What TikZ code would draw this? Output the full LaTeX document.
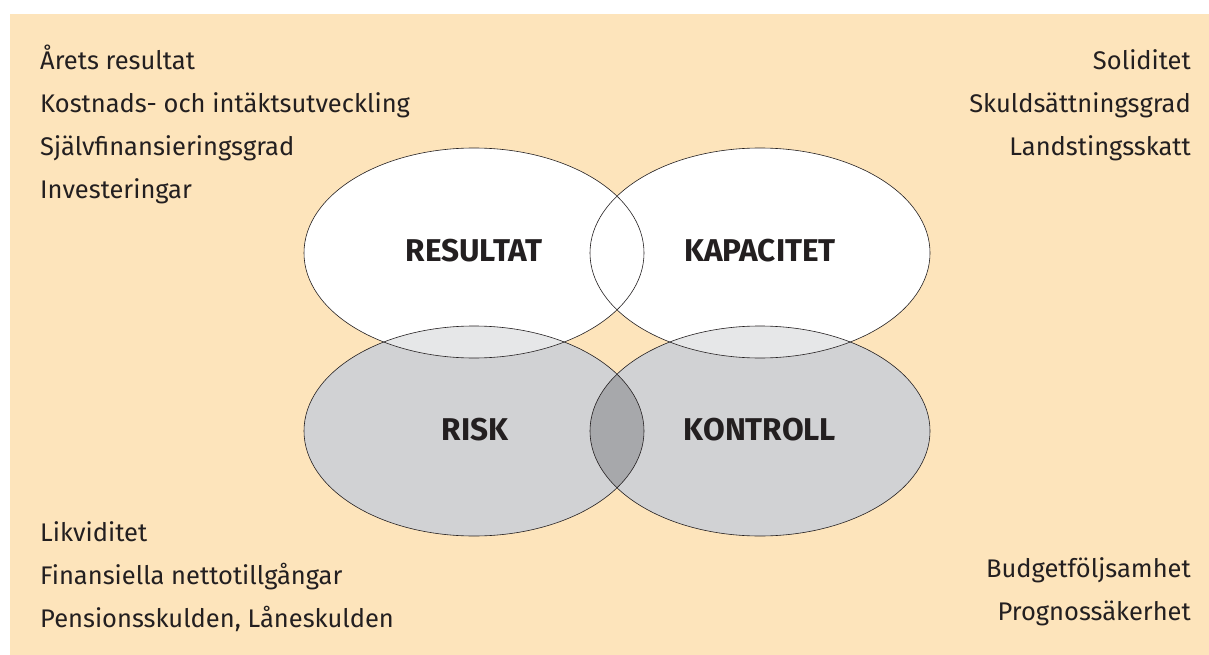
\documentclass[tikz,border=0pt]{standalone}
\usepackage{fontspec}
\setmainfont{Fira Sans}
\definecolor{peach}{HTML}{FDE4BB}
\definecolor{lowfill}{HTML}{D1D2D4}
\definecolor{paleoverlap}{HTML}{E6E7E8}
\definecolor{darkoverlap}{HTML}{A7A8AB}
\definecolor{ink}{HTML}{231F20}
\begin{document}
\begin{tikzpicture}[x=1pt,y=-1pt,
  item/.style={font=\fontsize{25.5}{30}\selectfont, text=ink, inner sep=0pt},
  area/.style={font=\bfseries\fontsize{31.5}{36}\selectfont, text=ink, inner sep=0pt},
  rim/.style={draw=ink, line width=0.6pt},
  oval/.style={x radius=170pt, y radius=105pt}]
\useasboundingbox (0,0) rectangle (1209,655);
\fill[white] (0,0) rectangle (1209,655);
\fill[peach] (10,14) rectangle (1209,655);

% centres of the four ovals
\coordinate (cRes) at (474,253);
\coordinate (cKap) at (760,253);
\coordinate (cRisk) at (474,431);
\coordinate (cKon) at (760,431);

% base fills
\fill[lowfill] (cRisk) ellipse [oval];
\fill[lowfill] (cKon) ellipse [oval];
\fill[white] (cRes) ellipse [oval];
\fill[white] (cKap) ellipse [oval];

% overlaps between upper and lower ovals
\begin{scope}
  \clip (cRes) ellipse [oval];
  \fill[paleoverlap] (cRisk) ellipse [oval];
\end{scope}
\begin{scope}
  \clip (cKap) ellipse [oval];
  \fill[paleoverlap] (cKon) ellipse [oval];
\end{scope}
% overlap of the two lower ovals
\begin{scope}
  \clip (cRisk) ellipse [oval];
  \fill[darkoverlap] (cKon) ellipse [oval];
\end{scope}

% outlines
\draw[rim] (cRes) ellipse [oval];
\draw[rim] (cKap) ellipse [oval];
\draw[rim] (cRisk) ellipse [oval];
\draw[rim] (cKon) ellipse [oval];

% oval titles
\node[area] (resultat) at (474,251) {RESULTAT};
\node[area] (kapacitet) at (760,251) {KAPACITET};
\node[area] (risk) at (475,430) {RISK};
\node[area] (kontroll) at (760,430) {KONTROLL};

% key ratios, upper left
\node[item, anchor=base west] (arets) at (40,70) {Årets resultat};
\node[item, anchor=base west] (kostnads) at (40,112.5) {Kostnads- och intäktsutveckling};
\node[item, anchor=base west] (sjalvfin) at (40,155.5) {Självfinansieringsgrad};
\node[item, anchor=base west] (invest) at (40,198) {Investeringar};

% key ratios, upper right
\node[item, anchor=base east] (solid) at (1191,70) {Soliditet};
\node[item, anchor=base east] (skuld) at (1191,112.5) {Skuldsättningsgrad};
\node[item, anchor=base east] (skatt) at (1191,155.5) {Landstingsskatt};

% key ratios, lower left
\node[item, anchor=base west] (likv) at (40,541.5) {Likviditet};
\node[item, anchor=base west] (finans) at (40,584) {Finansiella nettotillgångar};
\node[item, anchor=base west] (pension) at (40,627.5) {Pensionsskulden, Låneskulden};

% key ratios, lower right
\node[item, anchor=base east] (budget) at (1191,577) {Budgetföljsamhet};
\node[item, anchor=base east] (prognos) at (1191,620.5) {Prognossäkerhet};
\end{tikzpicture}
\end{document}
